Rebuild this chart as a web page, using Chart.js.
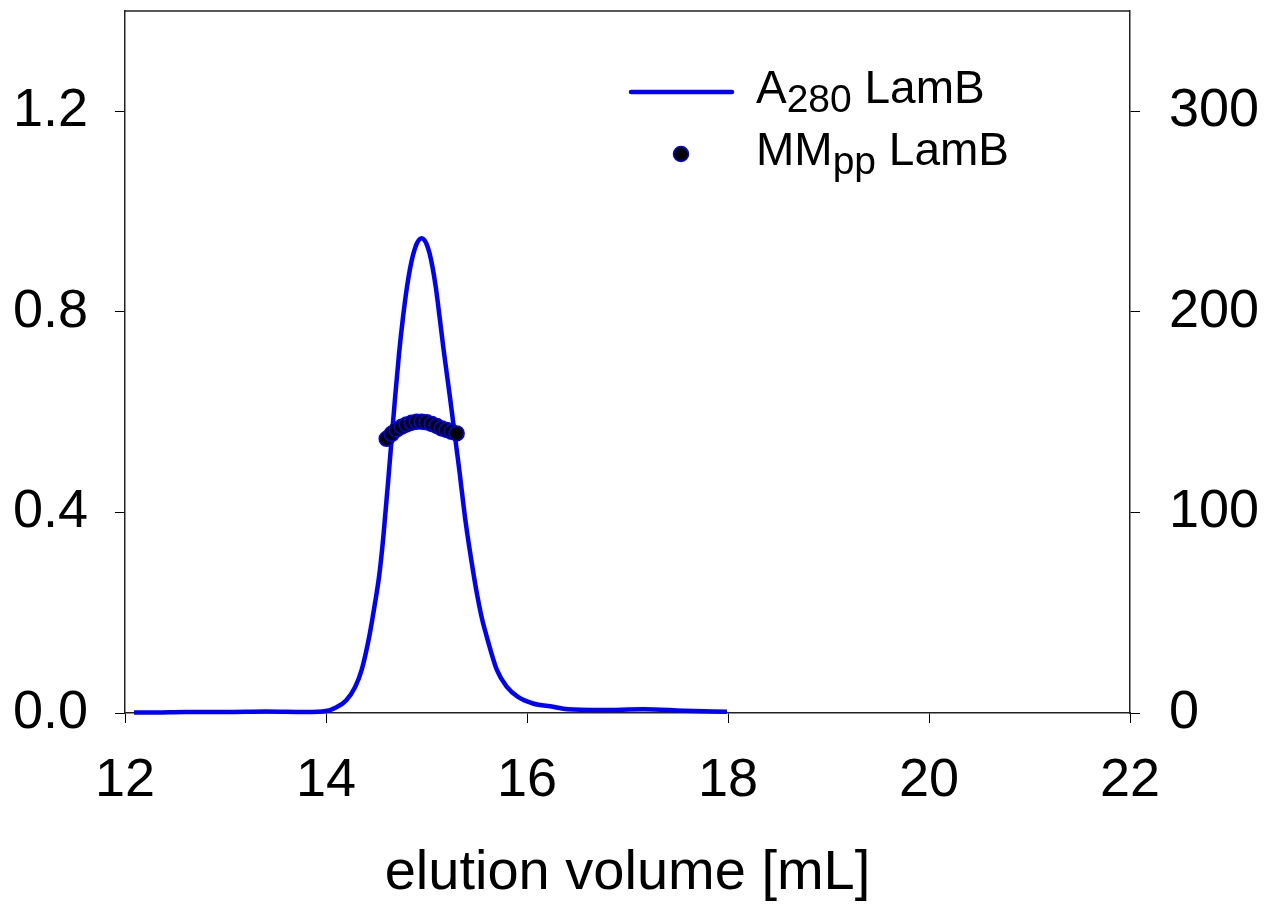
<!DOCTYPE html>
<html>
<head>
<meta charset="utf-8">
<script src="https://cdn.jsdelivr.net/npm/chart.js@4/dist/chart.umd.min.js"></script>
<style>
  html, body { margin: 0; padding: 0; background: #fff; }
  canvas { display: block; }
</style>
</head>
<body>
<canvas id="chart" width="1279" height="907"></canvas>
<script>
// A280 trace (elution volume in mL, absorbance)
var elutionVolume = [12.09, 12.3, 12.6, 13.0, 13.4, 13.8, 14.0, 14.1, 14.2, 14.29, 14.355, 14.43, 14.49, 14.53, 14.57,
    14.63, 14.69, 14.727, 14.765, 14.804, 14.837, 14.871, 14.905, 14.952, 14.997, 15.03, 15.062, 15.094, 15.132, 15.17,
    15.234, 15.323, 15.39, 15.45, 15.50, 15.55, 15.60, 15.70, 15.80, 15.91, 16.06, 16.26, 16.4, 16.73, 17.16, 17.56, 17.99];
var a280 = [0.001, 0.001, 0.002, 0.002, 0.003, 0.002, 0.004, 0.011, 0.025, 0.052, 0.086, 0.152, 0.222, 0.275, 0.350,
    0.490, 0.635, 0.717, 0.787, 0.847, 0.887, 0.917, 0.937, 0.947, 0.937, 0.917, 0.887, 0.847, 0.787, 0.725,
    0.629, 0.490, 0.380, 0.300, 0.240, 0.190, 0.152, 0.086, 0.052, 0.032, 0.019, 0.0125, 0.0074, 0.006, 0.0074, 0.0046, 0.0026];

// molar mass points (right axis)
var mmVolume = [14.604, 14.654, 14.704, 14.753, 14.803, 14.853, 14.903, 14.952, 15.002, 15.052, 15.102, 15.151, 15.201, 15.251, 15.30];
var mmValues = [136.7, 139.2, 141.4, 142.7, 143.9, 144.7, 145.2, 145.2, 144.9, 144.1, 143.1, 141.9, 141.1, 140.2, 139.4];

var xTicks = [12, 14, 16, 18, 20, 22];
var leftTicks = [0, 0.4, 0.8, 1.2];
var rightTicks = [0, 100, 200, 300];

var legendItems = [
    { main: 'A', sub: '280', rest: ' LamB' },
    { main: 'MM', sub: 'pp', rest: ' LamB' }
];

var FONT = "'Liberation Sans', Arial, Helvetica, sans-serif";
var BLUE = '#0000ff';

function pairs(xs, ys) {
    return xs.map(function (x, i) { return { x: x, y: ys[i] }; });
}

function fixedTicks(list) {
    return function (scale) {
        scale.ticks = list.map(function (v) { return { value: v }; });
    };
}

function drawRich(ctx, x, y, item, size, subSize) {
    ctx.font = size + 'px ' + FONT;
    ctx.fillText(item.main, x, y);
    x += ctx.measureText(item.main).width;
    ctx.font = subSize + 'px ' + FONT;
    ctx.fillText(item.sub, x, y + 9);
    x += ctx.measureText(item.sub).width;
    ctx.font = size + 'px ' + FONT;
    ctx.fillText(item.rest, x, y);
}

var framePlugin = {
    id: 'frame',
    beforeDatasetsDraw: function (chart) {
        var a = chart.chartArea;
        var ctx = chart.ctx;
        ctx.save();
        ctx.strokeStyle = '#222';
        ctx.lineWidth = 1.5;
        ctx.beginPath();
        ctx.moveTo(a.left, a.top);
        ctx.lineTo(a.right, a.top);
        ctx.stroke();
        ctx.restore();
    }
};

var legendPlugin = {
    id: 'subLegend',
    afterDraw: function (chart) {
        var ctx = chart.ctx;
        var line = chart.data.datasets[1];
        var dots = chart.data.datasets[0];
        ctx.save();
        ctx.strokeStyle = line.borderColor;
        ctx.lineWidth = line.borderWidth;
        ctx.lineCap = 'round';
        ctx.beginPath();
        ctx.moveTo(631, 92);
        ctx.lineTo(732, 92);
        ctx.stroke();

        ctx.fillStyle = dots.backgroundColor;
        ctx.strokeStyle = dots.borderColor;
        ctx.lineWidth = dots.borderWidth;
        ctx.beginPath();
        ctx.arc(681, 154, dots.pointRadius, 0, Math.PI * 2);
        ctx.fill();
        ctx.stroke();

        ctx.fillStyle = '#000';
        ctx.textBaseline = 'alphabetic';
        ctx.textAlign = 'left';
        drawRich(ctx, 756, 103, legendItems[0], 46, 39);
        drawRich(ctx, 756, 165, legendItems[1], 46, 39);
        ctx.restore();
    }
};

var tickFont = { family: FONT, size: 54 };

function fitVertical(width) {
    return function (s) {
        s.width = width;
        s.paddingTop = 0;
        s.paddingBottom = 0;
    };
}

new Chart(document.getElementById('chart'), {
    type: 'scatter',
    data: {
        datasets: [
            {
                label: 'MMpp LamB',
                data: pairs(mmVolume, mmValues),
                yAxisID: 'y2',
                backgroundColor: '#000',
                borderColor: BLUE,
                borderWidth: 1.5,
                pointRadius: 7.5,
                order: 1
            },
            {
                label: 'A280 LamB',
                data: pairs(elutionVolume, a280),
                yAxisID: 'y',
                showLine: true,
                borderColor: BLUE,
                borderWidth: 4.5,
                pointRadius: 0,
                cubicInterpolationMode: 'monotone',
                clip: false,
                order: 2
            }
        ]
    },
    options: {
        responsive: false,
        animation: false,
        events: [],
        layout: { padding: { top: 11, left: 0, right: 0, bottom: 0 } },
        plugins: {
            legend: { display: false },
            tooltip: { enabled: false }
        },
        scales: {
            x: {
                type: 'linear',
                min: 12,
                max: 22,
                afterBuildTicks: fixedTicks(xTicks),
                afterFit: function (s) { s.height = 194; s.paddingLeft = 0; s.paddingRight = 0; },
                ticks: { color: '#000', font: tickFont, padding: 26, maxRotation: 0 },
                grid: { drawOnChartArea: false, tickLength: 10, color: '#000', lineWidth: 1 },
                border: { color: '#222', width: 1.5 },
                title: {
                    display: true,
                    text: 'elution volume [mL]',
                    color: '#000',
                    font: { family: FONT, size: 56 },
                    padding: { top: 0, bottom: 0 }
                }
            },
            y: {
                position: 'left',
                min: 0,
                max: 1.4,
                afterBuildTicks: fixedTicks(leftTicks),
                afterFit: fitVertical(125),
                ticks: {
                    color: '#000',
                    font: tickFont,
                    padding: 27,
                    callback: function (v) { return v.toFixed(1); }
                },
                grid: { drawOnChartArea: false, tickLength: 10, color: '#000', lineWidth: 1 },
                border: { color: '#222', width: 1.5 }
            },
            y2: {
                position: 'right',
                min: 0,
                max: 350,
                afterBuildTicks: fixedTicks(rightTicks),
                afterFit: fitVertical(149),
                ticks: { color: '#000', font: tickFont, padding: 29 },
                grid: { drawOnChartArea: false, tickLength: 10, color: '#000', lineWidth: 1 },
                border: { color: '#222', width: 1.5 }
            }
        }
    },
    plugins: [framePlugin, legendPlugin]
});
</script>
</body>
</html>
